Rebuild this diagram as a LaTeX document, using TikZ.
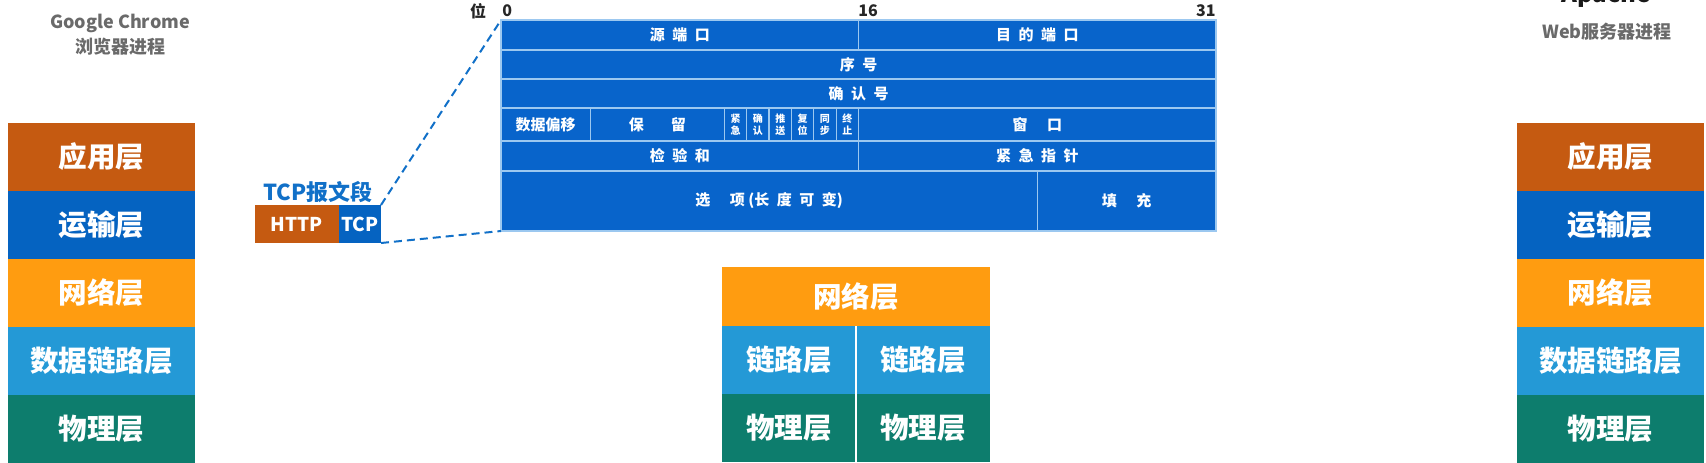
\documentclass[tikz,border=0pt]{standalone}
\usepackage{fontspec}
\setmainfont{Noto Sans CJK SC}
\usepackage{tikz}
\usetikzlibrary{positioning}
\definecolor{appOrange}{HTML}{C55A11}
\definecolor{transBlue}{HTML}{0563C1}
\definecolor{netOrange}{HTML}{FF9C10}
\definecolor{linkBlue}{HTML}{2499D6}
\definecolor{phyTeal}{HTML}{0D7D6D}
\definecolor{hdrBlue}{HTML}{0864CB}
\definecolor{hdrLine}{HTML}{9CC8F0}
\definecolor{procGray}{HTML}{6A6A6A}
\definecolor{segBlue}{HTML}{1170C8}

\begin{document}
\begin{tikzpicture}[
    x=0.5pt,y=-0.5pt,
    stackbox/.style={rectangle,minimum width=93.5pt,minimum height=34pt,
                     inner sep=0pt,outer sep=0pt,text=white,
                     font=\bfseries\fontsize{14.3}{16}\selectfont},
    half/.style={stackbox,minimum width=67pt},
    segbox/.style={rectangle,minimum height=19pt,inner sep=0pt,outer sep=0pt,
                   text=white,font=\bfseries\fontsize{9.5}{10}\selectfont},
    cell/.style={rectangle,draw=hdrLine,line width=0.6pt,fill=hdrBlue,
                 inner sep=0pt,outer sep=0pt,anchor=north west,align=center,
                 text=white,font=\bfseries\fontsize{7.5}{9}\selectfont},
    flag/.style={cell,minimum width=11.17pt,minimum height=16.5pt,
                 font=\bfseries\fontsize{5}{6}\selectfont},
    bitlab/.style={font=\bfseries\fontsize{8}{8}\selectfont,text=black!85,inner sep=0pt},
    proc/.style={font=\bfseries\fontsize{9}{10}\selectfont,text=procGray,inner sep=0pt},
    zoomln/.style={dash pattern=on 4pt off 2.5pt,line width=1pt,segBlue}
  ]
  \useasboundingbox (0,0) rectangle (1706,462);

  % browser side
  \node[proc] (cName) at (120,23) {Google Chrome};
  \node[proc] (cRole) at (120,47) {浏览器进程};
  \node[stackbox,fill=appOrange,anchor=north west] (cApp) at (8,123) {应用层};
  \node[stackbox,fill=transBlue,below=0pt of cApp] (cTrans) {运输层};
  \node[stackbox,fill=netOrange,below=0pt of cTrans] (cNet) {网络层};
  \node[stackbox,fill=linkBlue,below=0pt of cNet] (cLink) {数据链路层};
  \node[stackbox,fill=phyTeal,below=0pt of cLink] (cPhy) {物理层};

  % server side
  \node[proc,text=black!90,font=\bfseries\fontsize{12}{12}\selectfont,anchor=base]
    (sName) at (1606,2) {Apache};
  \node[proc] (sRole) at (1607,32) {Web服务器进程};
  \node[stackbox,fill=appOrange,anchor=north west] (sApp) at (1517,123) {应用层};
  \node[stackbox,fill=transBlue,below=0pt of sApp] (sTrans) {运输层};
  \node[stackbox,fill=netOrange,below=0pt of sTrans] (sNet) {网络层};
  \node[stackbox,fill=linkBlue,below=0pt of sNet] (sLink) {数据链路层};
  \node[stackbox,fill=phyTeal,below=0pt of sLink] (sPhy) {物理层};

  % router
  \node[stackbox,fill=netOrange,minimum width=134pt,minimum height=29.5pt,
        anchor=north west] (mNet) at (722,267) {网络层};
  \node[half,fill=linkBlue,anchor=north west] (mLinkA) at (mNet.south west) {链路层};
  \node[half,fill=linkBlue,right=0pt of mLinkA] (mLinkB) {链路层};
  \node[half,fill=phyTeal,below=0pt of mLinkA] (mPhyA) {物理层};
  \node[half,fill=phyTeal,below=0pt of mLinkB] (mPhyB) {物理层};
  \draw[white,line width=0.8pt] (mLinkA.north east) -- (mPhyA.south east);

  % segment
  \node[font=\bfseries\fontsize{11}{12}\selectfont,text=segBlue,inner sep=0pt]
    (segLab) at (318,192) {TCP报文段};
  \node[segbox,fill=appOrange,minimum width=42pt,anchor=north west] (http) at (255,205) {HTTP};
  \node[segbox,fill=transBlue,minimum width=21pt,right=0pt of http] (tcp) {TCP};

  % TCP header
  \node[bitlab] (bitWord) at (478,11) {位};
  \node[bitlab,anchor=west] (b0) at (502,11) {0};
  \node[bitlab,anchor=west] (b16) at (858,11) {16};
  \node[bitlab,anchor=east] (b31) at (1216,11) {31};

  \node[cell,minimum width=178.75pt,minimum height=15pt] (src) at (501,20) {源\enspace 端\enspace 口};
  \node[cell,minimum width=178.75pt,minimum height=15pt] (dst) at (858.5,20) {目\enspace 的\enspace 端\enspace 口};
  \node[cell,minimum width=357.5pt,minimum height=14.5pt] (seq) at (501,50) {序\enspace 号};
  \node[cell,minimum width=357.5pt,minimum height=14.5pt] (ack) at (501,79) {确\enspace 认\enspace 号};
  \node[cell,minimum width=44.69pt,minimum height=16.5pt] (off) at (501,108) {数据偏移};
  \node[cell,minimum width=67.03pt,minimum height=16.5pt] (rsv) at (590.4,108) {保\hspace{1.8em}留};
  \foreach \f [count=\i from 0] in {{紧\\急},{确\\认},{推\\送},{复\\位},{同\\步},{终\\止}}
    \node[flag] (flag\i) at ({724.4+22.34*\i},108) {\f};
  \node[cell,minimum width=178.75pt,minimum height=16.5pt] (win) at (858.5,108) {窗\hspace{1.3em}口};
  \node[cell,minimum width=178.75pt,minimum height=15pt] (chk) at (501,141) {检\enspace 验\enspace 和};
  \node[cell,minimum width=178.75pt,minimum height=15pt] (urg) at (858.5,141) {紧\enspace 急\enspace 指\enspace 针};
  \node[cell,minimum width=268.1pt,minimum height=30pt] (opt) at (501,171)
    {选\hspace{1.3em}项 (长\enspace 度\enspace 可\enspace 变)};
  \node[cell,minimum width=89.4pt,minimum height=30pt] (pad) at (1037.2,171) {填\hspace{1.3em}充};

  \draw[zoomln] (tcp.north east) -- (src.north west);
  \draw[zoomln] (tcp.south east) -- (opt.south west);
\end{tikzpicture}
\end{document}
